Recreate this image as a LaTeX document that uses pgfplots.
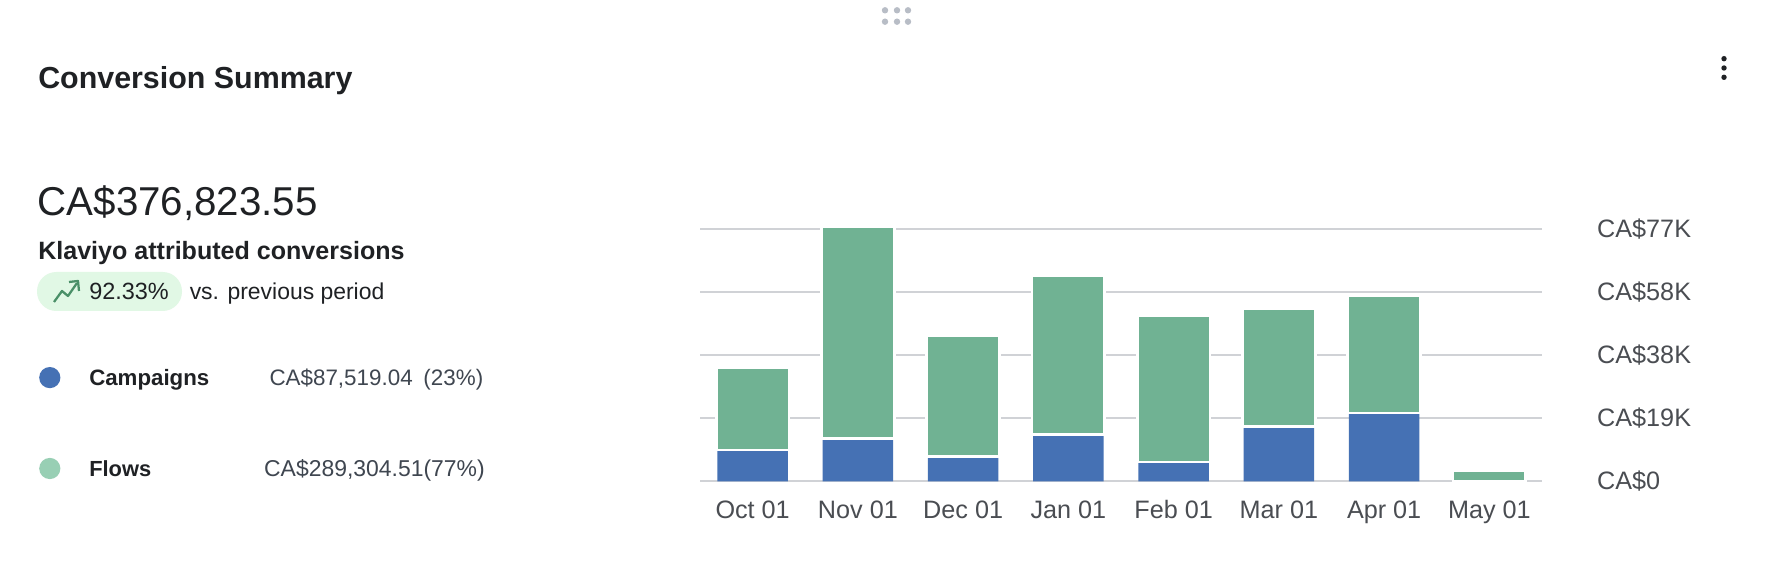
\documentclass[border=0pt]{standalone}
\usepackage{pgfplots}
\pgfplotsset{compat=1.18}
\usepackage{pgfplotstable}
\usepackage{fontspec}
\setmainfont{Liberation Sans}
\definecolor{inkA}{HTML}{1F2124}
\definecolor{inkB}{HTML}{3F4650}
\definecolor{tick}{HTML}{4A4D52}
\definecolor{gridc}{HTML}{D0D2D6}
\definecolor{barblue}{HTML}{4571B4}
\definecolor{bargreen}{HTML}{70B293}
\definecolor{dotgreen}{HTML}{98CFB4}
\definecolor{pill}{HTML}{E1F8E5}
\definecolor{arrowc}{HTML}{4A9068}
\definecolor{grip}{HTML}{B8BDC6}
\newcommand{\fs}[1]{\fontsize{#1}{#1}\selectfont}
\pgfplotstableread{
idx campaigns flows
0 9.55 25.05
1 13.15 64.35
2 7.62 36.68
3 14.27 48.30
4 5.94 44.54
5 16.76 35.74
6 20.80 35.77
7 0 3.24
}\conv
\begin{document}
\begin{tikzpicture}
\fill[white] (0,0) rectangle (1340.25pt,438pt);
\useasboundingbox (0,0) rectangle (1340.25pt,438pt);
\begin{scope}[x=0.75pt,y=-0.75pt,yshift=438pt]
% header
\node[anchor=base west,inner sep=0,text=inkA] at (38,89) {\fs{22.8}\bfseries Conversion Summary};
\foreach \gx in {885,897,908}{\foreach \gy in {10.3,21.7}{\fill[grip] (\gx,\gy) circle[radius=3.2];}}
\foreach \gy in {58.7,68,77.3}{\fill[inkA] (1724,\gy) circle[radius=2.7];}
% summary
\node[anchor=base west,inner sep=0,text=inkA] at (37.5,216) {\fs{30.2}CA\$376,823.55};
\node[anchor=base west,inner sep=0,text=inkA] at (38,260) {\fs{18.8}\bfseries Klaviyo attributed conversions};
\fill[pill,rounded corners=14.5pt] (37,272) rectangle (182,311);
\draw[arrowc,line width=1.7pt,line join=round] (54,302) -- (62,291) -- (68,296) -- (77,283);
\draw[arrowc,line width=1.7pt,line join=round] (69,282) -- (78,281) -- (79,291);
\node[anchor=base west,inner sep=0,text=inkA] at (89,300) {\fs{17.6}92.33\%};
\node[anchor=base west,inner sep=0,text=inkA] at (189.5,300) {\fs{17.2}vs. previous period};
% legend
\fill[barblue] (49.8,377.6) circle[radius=10.6];
\node[anchor=base west,inner sep=0,text=inkA] at (89,386) {\fs{16.7}\bfseries Campaigns};
\node[anchor=base east,inner sep=0,text=inkB] at (413,385.5) {\fs{16.8}CA\$87,519.04};
\node[anchor=base east,inner sep=0,text=inkB] at (483.5,385.5) {\fs{16.8}(23\%)};
\fill[dotgreen] (49.8,468.5) circle[radius=10.6];
\node[anchor=base west,inner sep=0,text=inkA] at (89,477) {\fs{16.4}\bfseries Flows};
\node[anchor=base east,inner sep=0,text=inkB] at (485,476.5) {\fs{17.2}CA\$289,304.51(77\%)};
\end{scope}
% chart
\begin{axis}[
  at={(525pt,77pt)}, anchor=south west,
  scale only axis, width=631.5pt, height=189.45pt,
  ybar stacked, bar width=54pt, reverse stacked plots=false,
  xmin=-0.5, xmax=7.5, ymin=0, ymax=77,
  clip=false,
  axis line style={draw=none},
  major tick length=0pt,
  ymajorgrids, grid style={gridc,line width=1.3pt},
  xtick={0,1,2,3,4,5,6,7},
  xticklabels={Oct 01,Nov 01,Dec 01,Jan 01,Feb 01,Mar 01,Apr 01,May 01},
  ytick={0,19.25,38.5,57.75,77},
  yticklabels={CA\$0,CA\$19K,CA\$38K,CA\$58K,CA\$77K},
  yticklabel pos=right,
  xticklabel style={anchor=base,inner sep=0pt,yshift=-28.2pt,text=tick,font=\fs{18.9}},
  yticklabel style={anchor=west,inner sep=0pt,xshift=41.2pt,text=tick,font=\fs{18.9}},
]
\addplot[fill=barblue,draw=none,bar width=52.8pt] table[x=idx,y=campaigns] {\conv};
\addplot[fill=bargreen,draw=white,line width=2pt,bar width=54.6pt] table[x=idx,y=flows] {\conv};
\end{axis}
\end{tikzpicture}
\end{document}
